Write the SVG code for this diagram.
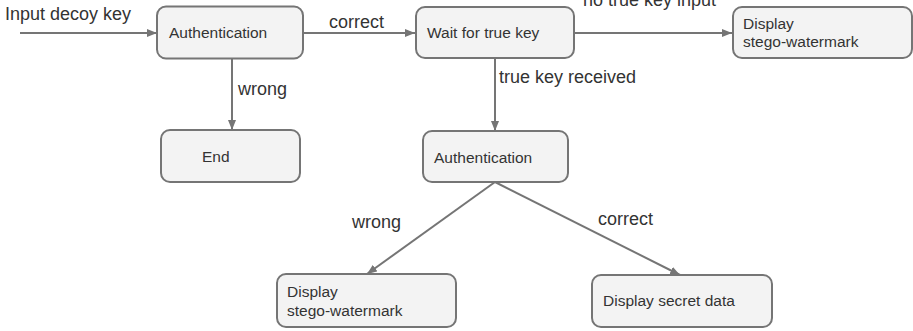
<svg xmlns="http://www.w3.org/2000/svg" width="913" height="331" viewBox="0 0 913 331">
<style>
.box{fill:#f3f3f3;stroke:#757575;stroke-width:2}
.ln{fill:none;stroke:#757575;stroke-width:2}
.nt{font-family:"Liberation Sans",Arial,sans-serif;font-size:15.5px;fill:#333}
.et{font-family:"Liberation Sans",Arial,sans-serif;font-size:18px;fill:#333}
</style>
<defs>
<marker id="ah" viewBox="0 0 10 8" refX="10" refY="4" markerWidth="10" markerHeight="8" markerUnits="userSpaceOnUse" orient="auto">
<path d="M0,0 L10,4 L0,8 Z" fill="#757575"/>
</marker>
</defs>
<g id="connectors">
<line class="ln" x1="20" y1="33" x2="157" y2="33" marker-end="url(#ah)"/>
<line class="ln" x1="303" y1="33" x2="415" y2="33" marker-end="url(#ah)"/>
<line class="ln" x1="574" y1="33" x2="732" y2="33" marker-end="url(#ah)"/>
<line class="ln" x1="232" y1="58" x2="232" y2="130" marker-end="url(#ah)"/>
<line class="ln" x1="495" y1="58" x2="495" y2="131" marker-end="url(#ah)"/>
<line class="ln" x1="495" y1="182" x2="367" y2="274" marker-end="url(#ah)"/>
<line class="ln" x1="495" y1="182" x2="680" y2="275" marker-end="url(#ah)"/>
<text class="et" x="5" y="20">Input decoy key</text>
<text class="et" x="329" y="28">correct</text>
<text class="et" x="583" y="6">no true key input</text>
<text class="et" x="238" y="95">wrong</text>
<text class="et" x="499" y="83">true key received</text>
<text class="et" x="352" y="228">wrong</text>
<text class="et" x="598" y="225">correct</text>
</g>
<g id="auth1">
<rect class="box" x="157" y="6.5" width="146" height="52" rx="9"/>
<text class="nt" x="169" y="38">Authentication</text>
</g>
<g id="wait">
<rect class="box" x="416" y="7" width="158" height="51" rx="9"/>
<text class="nt" x="427" y="38">Wait for true key</text>
</g>
<g id="stego1">
<rect class="box" x="733" y="7" width="179" height="51" rx="9"/>
<text class="nt" x="743" y="29">Display</text>
<text class="nt" x="743" y="47">stego-watermark</text>
</g>
<g id="end">
<rect class="box" x="161" y="130" width="139" height="52" rx="9"/>
<text class="nt" x="202" y="162">End</text>
</g>
<g id="auth2">
<rect class="box" x="423" y="131" width="145" height="51" rx="9"/>
<text class="nt" x="434" y="163">Authentication</text>
</g>
<g id="stego2">
<rect class="box" x="277" y="274" width="179" height="53" rx="9"/>
<text class="nt" x="287" y="297">Display</text>
<text class="nt" x="287" y="316">stego-watermark</text>
</g>
<g id="secret">
<rect class="box" x="592" y="275" width="180" height="52" rx="9"/>
<text class="nt" x="603" y="306">Display secret data</text>
</g>
</svg>
